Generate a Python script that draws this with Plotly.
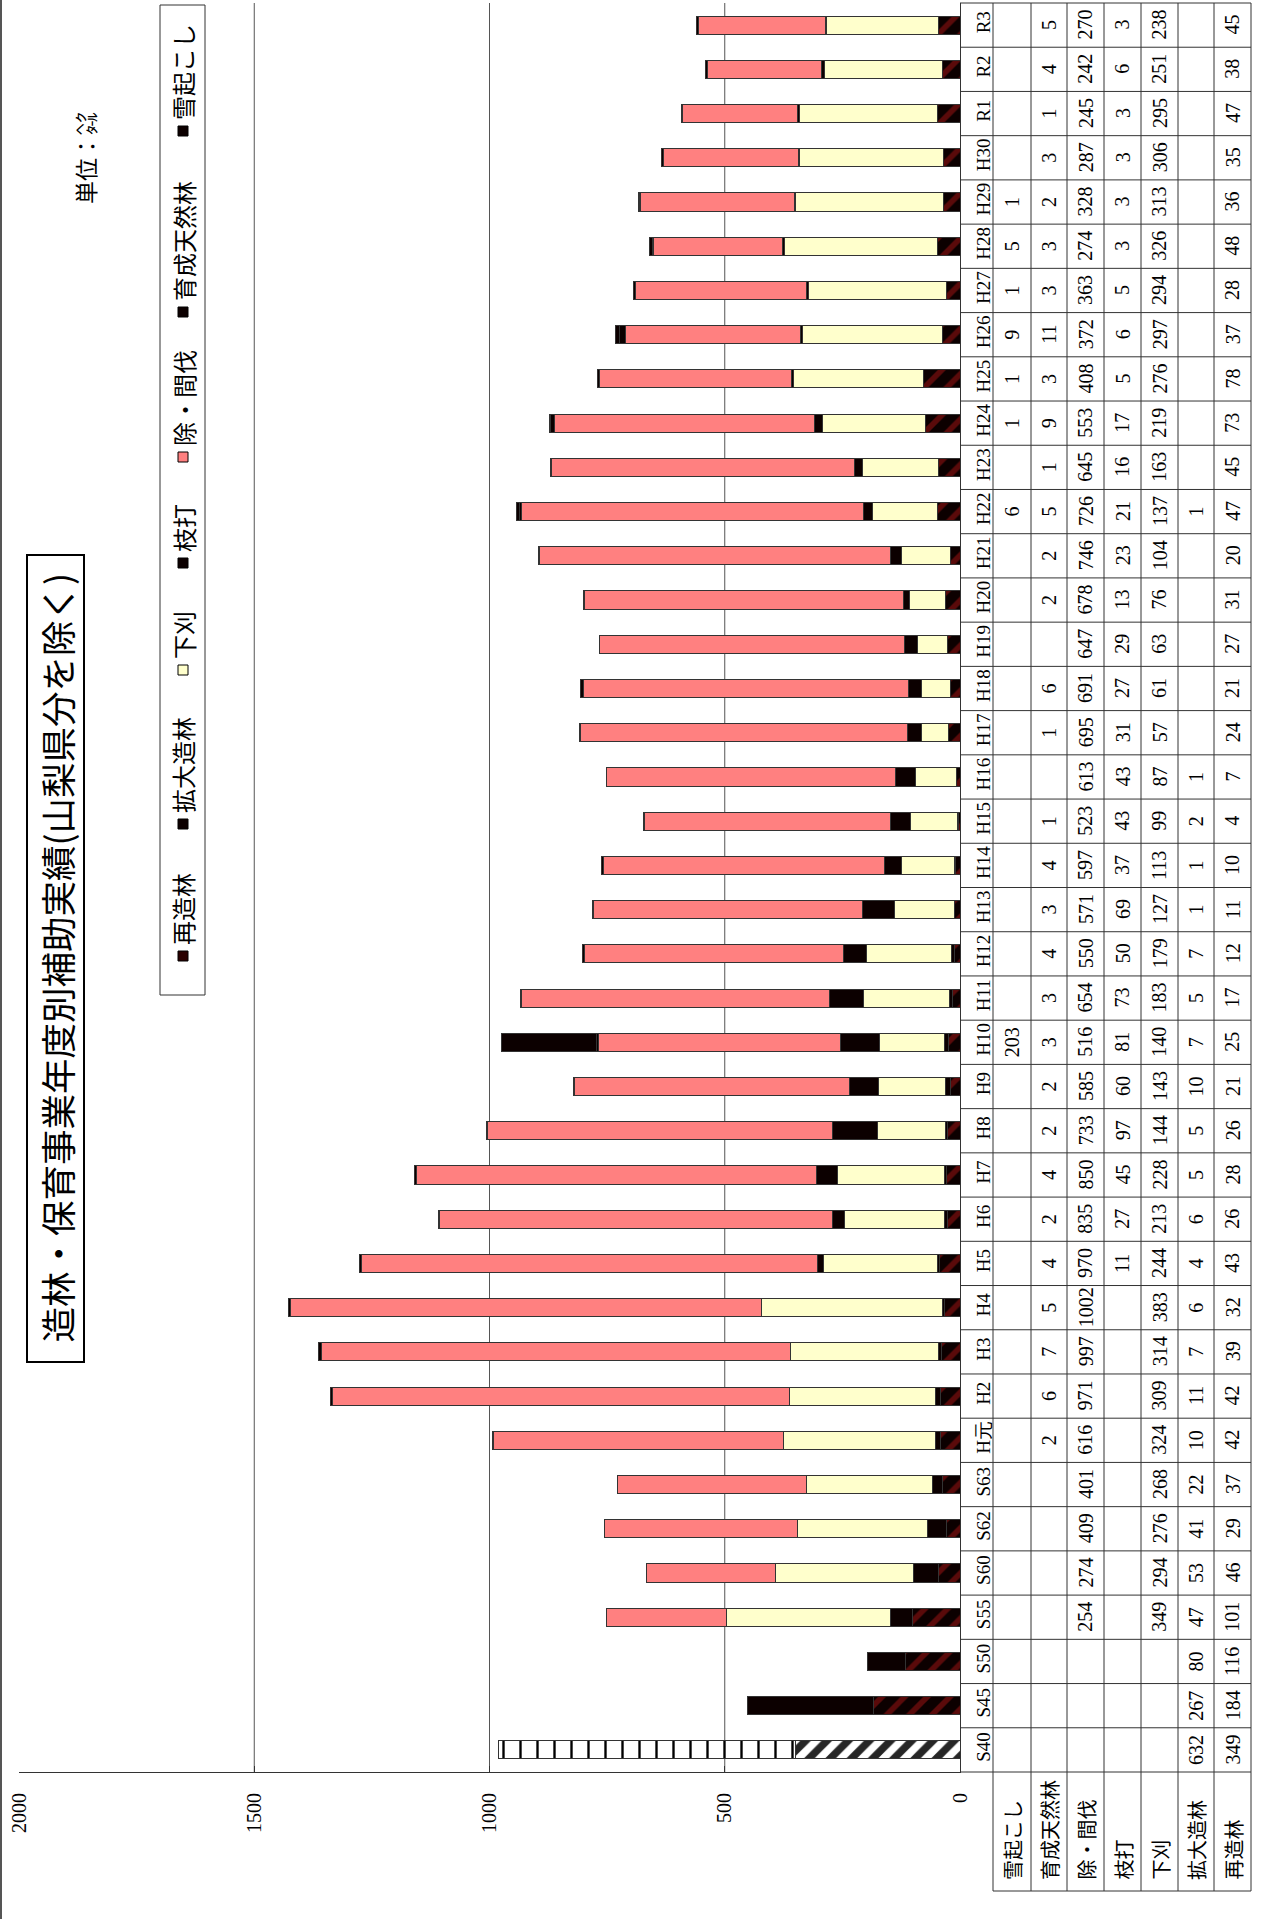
import plotly.graph_objects as go

categories = ["S40", "S45", "S50", "S55", "S60", "S62", "S63", "H元",
              "H2", "H3", "H4", "H5", "H6", "H7", "H8", "H9", "H10",
              "H11", "H12", "H13", "H14", "H15", "H16", "H17", "H18", "H19",
              "H20", "H21", "H22", "H23", "H24", "H25", "H26", "H27", "H28",
              "H29", "H30", "R1", "R2", "R3"]
N = None
yukiokoshi = [N, N, N, N, N, N, N, N,
              N, N, N, N, N, N, N, N, 203,
              N, N, N, N, N, N, N, N, N,
              N, N, 6, N, 1, 1, 9, 1, 5,
              1, N, N, N, N]
ikusei = [N, N, N, N, N, N, N, 2,
          6, 7, 5, 4, 2, 4, 2, 2, 3,
          3, 4, 3, 4, 1, N, 1, 6, N,
          2, 2, 5, 1, 9, 3, 11, 3, 3,
          2, 3, 1, 4, 5]
jokan = [N, N, N, 254, 274, 409, 401, 616,
         971, 997, 1002, 970, 835, 850, 733, 585, 516,
         654, 550, 571, 597, 523, 613, 695, 691, 647,
         678, 746, 726, 645, 553, 408, 372, 363, 274,
         328, 287, 245, 242, 270]
edauchi = [N, N, N, N, N, N, N, N,
           N, N, N, 11, 27, 45, 97, 60, 81,
           73, 50, 69, 37, 43, 43, 31, 27, 29,
           13, 23, 21, 16, 17, 5, 6, 5, 3,
           3, 3, 3, 6, 3]
shitagari = [N, N, N, 349, 294, 276, 268, 324,
             309, 314, 383, 244, 213, 228, 144, 143, 140,
             183, 179, 127, 113, 99, 87, 57, 61, 63,
             76, 104, 137, 163, 219, 276, 297, 294, 326,
             313, 306, 295, 251, 238]
kakudai = [632, 267, 80, 47, 53, 41, 22, 10,
           11, 7, 6, 4, 6, 5, 5, 10, 7,
           5, 7, 1, 1, 2, 1, N, N, N,
           N, N, 1, N, N, N, N, N, N,
           N, N, N, N, N]
saizo = [349, 184, 116, 101, 46, 29, 37, 42,
         42, 39, 32, 43, 26, 28, 26, 21, 25,
         17, 12, 11, 10, 4, 7, 24, 21, 27,
         31, 20, 47, 45, 73, 78, 37, 28, 48,
         36, 35, 47, 38, 45]

row_names = ["雪起こし", "育成天然林", "除・間伐", "枝打", "下刈", "拡大造林", "再造林"]
row_values = [yukiokoshi, ikusei, jokan, edauchi, shitagari, kakudai, saizo]
x_ticks = [0, 500, 1000, 1500, 2000]
grid_vals = [500, 1000, 1500]
title_text = "造林・保育事業年度別補助実績(山梨県分を除く)"
unit_text = "単位：㌶"

# ---------------- styling / layout ----------------
W, H = 1263, 1919
PL, PR, PT, PB = 19, 960, 3, 1772


def px(x):
    return (x - PL) / (PR - PL)


def py(y):
    return (PB - y) / (PB - PT)


BLACK = "#0c0000"
SALMON = "#FF8080"
YELLOW = "#FFFFCC"
OUTLINE = "#333333"
SERIF = "Liberation Serif"
CJK = "Noto Sans CJK JP"
first = categories[0]

fig = go.Figure()


def add_bar(name, vals, color, pattern=None):
    marker = dict(color=color, line=dict(color=OUTLINE, width=1))
    if pattern is not None:
        marker["pattern"] = pattern
    fig.add_trace(go.Bar(y=categories, x=vals, name=name, orientation="h",
                         marker=marker, showlegend=False, hoverinfo="x+y+name"))


# stacking order from 0 outward (the first year uses a different fill style)
add_bar("再造林", saizo, BLACK,
        dict(shape="/", fillmode="replace",
             bgcolor=["#ffffff" if c == first else BLACK for c in categories],
             fgcolor=["#262626" if c == first else "#5a0a0a" for c in categories],
             size=[15 if c == first else 16 for c in categories],
             solidity=[0.5 if c == first else 0.35 for c in categories]))
add_bar("拡大造林", kakudai, BLACK,
        dict(shape=["|" if c == first else "" for c in categories], fillmode="replace",
             bgcolor="#ffffff", fgcolor="#000000", size=17, solidity=0.14))
add_bar("下刈", shitagari, YELLOW)
add_bar("枝打", edauchi, BLACK)
add_bar("除・間伐", jokan, SALMON)
add_bar("育成天然林", ikusei, BLACK)
add_bar("雪起こし", yukiokoshi, BLACK)

shapes = []
annotations = []
LINE = dict(color="#333333", width=1)

# gridlines
for v in grid_vals:
    shapes.append(dict(type="line", xref="x", yref="paper", x0=v, x1=v, y0=0, y1=1,
                       line=dict(color="#555555", width=1), layer="below"))

# data table
col_edges = [993, 1031, 1067, 1104, 1141, 1178, 1214, 1251]
TABLE_BOTTOM = 1891
for xe in col_edges:
    shapes.append(dict(type="line", xref="paper", yref="paper", x0=px(xe), x1=px(xe),
                       y0=py(TABLE_BOTTOM), y1=py(PT), line=LINE))
for i in range(1, len(categories)):
    shapes.append(dict(type="line", xref="paper", yref="y", x0=px(PR), x1=px(col_edges[-1]),
                       y0=i - 0.5, y1=i - 0.5, line=LINE))
shapes.append(dict(type="line", xref="paper", yref="paper", x0=px(PR), x1=px(col_edges[-1]),
                   y0=1, y1=1, line=LINE))
shapes.append(dict(type="line", xref="paper", yref="paper", x0=px(PR), x1=px(col_edges[-1]),
                   y0=0, y1=0, line=LINE))
shapes.append(dict(type="line", xref="paper", yref="paper", x0=px(col_edges[0]), x1=px(col_edges[-1]),
                   y0=py(TABLE_BOTTOM), y1=py(TABLE_BOTTOM), line=LINE))

for r, (name, vals) in enumerate(zip(row_names, row_values)):
    xc = (col_edges[r] + col_edges[r + 1]) / 2
    annotations.append(dict(text=name, xref="paper", yref="paper", x=px(xc), y=py(1882),
                            xanchor="center", yanchor="bottom", textangle=-90, showarrow=False,
                            font=dict(family=CJK, size=20, color="#000")))
    for c, v in zip(categories, vals):
        if v is None:
            continue
        annotations.append(dict(text=str(v), xref="paper", yref="y", x=px(xc), y=c,
                                xanchor="center", yanchor="middle", textangle=-90, showarrow=False,
                                font=dict(family=SERIF, size=20, color="#000")))

# title
shapes.append(dict(type="rect", xref="paper", yref="paper", x0=px(27), x1=px(84),
                   y0=py(1362), y1=py(555), line=dict(color="#000", width=2), fillcolor="white"))
annotations.append(dict(text=title_text, xref="paper", yref="paper", x=px(55.5), y=py(958),
                        xanchor="center", yanchor="middle", textangle=-90, showarrow=False,
                        font=dict(family=CJK, size=35.5, color="#000")))

# unit
annotations.append(dict(text=unit_text, xref="paper", yref="paper", x=px(85), y=py(206),
                        xanchor="center", yanchor="bottom", textangle=-90, showarrow=False,
                        font=dict(family=CJK, size=23, color="#000")))

# legend (drawn manually, rotated like the rest of the page)
shapes.append(dict(type="rect", xref="paper", yref="paper", x0=px(160), x1=px(205),
                   y0=py(995), y1=py(5), line=dict(color="#333", width=1), fillcolor="white"))
legend_items = [("再造林", "#2a0000", 956), ("拡大造林", BLACK, 824), ("下刈", YELLOW, 670),
                ("枝打", BLACK, 563), ("除・間伐", SALMON, 457), ("育成天然林", BLACK, 312),
                ("雪起こし", BLACK, 131)]
LX = 183
for name, col, ys in legend_items:
    shapes.append(dict(type="rect", xref="paper", yref="paper", x0=px(LX - 5), x1=px(LX + 5),
                       y0=py(ys + 5), y1=py(ys - 5), line=dict(color="#000", width=1), fillcolor=col))
    annotations.append(dict(text=name, xref="paper", yref="paper", x=px(LX), y=py(ys - 9),
                            xanchor="center", yanchor="bottom", textangle=-90, showarrow=False,
                            font=dict(family=CJK, size=24, color="#000")))

# page border on the left
shapes.append(dict(type="line", xref="paper", yref="paper", x0=px(1), x1=px(1),
                   y0=py(H), y1=py(0), line=dict(color="#555", width=2)))

fig.update_layout(
    width=W, height=H, autosize=False,
    margin=dict(l=PL, r=W - PR, t=PT, b=H - PB, pad=0),
    paper_bgcolor="white", plot_bgcolor="white",
    barmode="stack", bargap=0.59,
    shapes=shapes, annotations=annotations,
    xaxis=dict(range=[2000, 0], tickvals=x_ticks, ticktext=[str(v) for v in x_ticks],
               ticks="inside", ticklen=6, tickcolor="#333", showline=True, linecolor="#333",
               showgrid=False, zeroline=False, tickangle=-90, ticklabelstandoff=12,
               tickfont=dict(family=SERIF, size=20, color="#000")),
    yaxis=dict(type="category", categoryorder="array", categoryarray=categories,
               range=[-0.5, len(categories) - 0.5], side="right", showline=True,
               linecolor="#333", ticks="", tickangle=-90, showgrid=False, zeroline=False,
               ticklabelstandoff=6, tickfont=dict(family=SERIF, size=19, color="#000")),
)

fig.write_html("out.html", config={"displayModeBar": False},
               post_script="document.body.style.margin='0px';")
